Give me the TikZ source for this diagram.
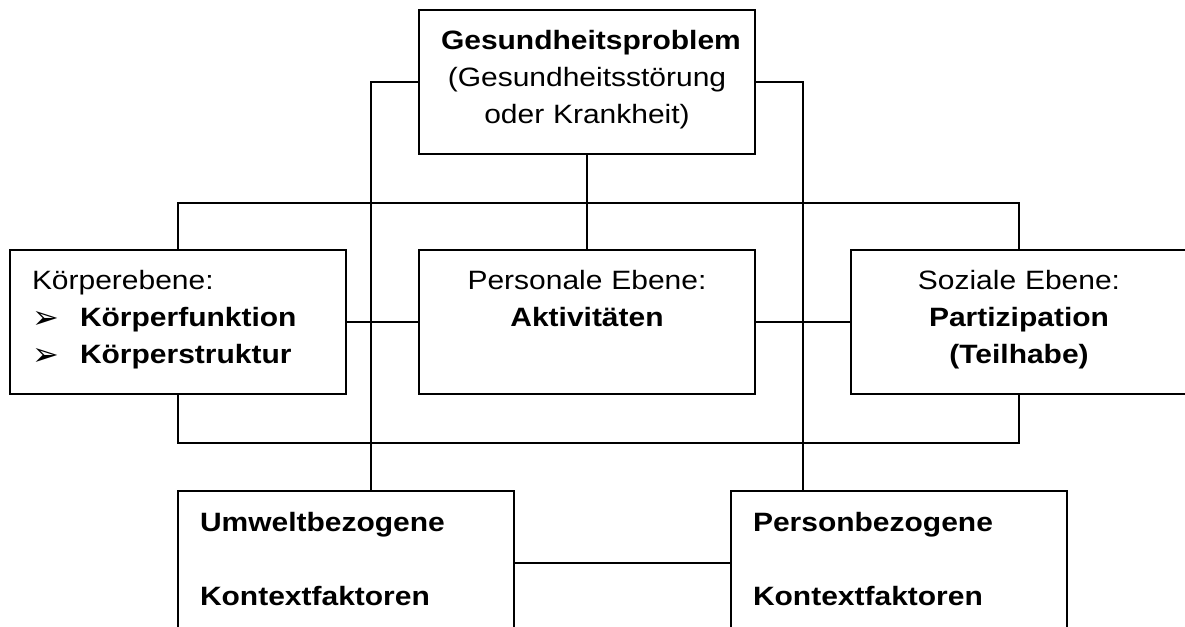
\documentclass[tikz,border=0pt]{standalone}
\usepackage{fontspec}
\setmainfont{Liberation Sans}[FakeStretch=1.13]
\newfontfamily\arrowfont{DejaVu Sans}
\newcommand{\pfeil}{\makebox[36pt][l]{\raisebox{-1pt}{\arrowfont\fontsize{24}{24}\selectfont ➢}}}

\begin{document}
\begin{tikzpicture}[x=0.75pt,y=-0.75pt,line width=1.2pt,
  box/.style={draw,inner xsep=16.5pt,inner ysep=0pt,
    text width=219pt,text height=30pt,text depth=78pt,
    font=\fontsize{19.9}{27.75}\selectfont}]
  \useasboundingbox (0,0) rectangle (1185,627);
  \clip (0,0) rectangle (1185,627);

  \node[box,align=center] (B1) at (587,82) {\textbf{Gesundheitsproblem}\\(Gesundheitsstörung\\oder Krankheit)};
  \node[box,align=left] (B2) at (178,322) {Körperebene:\\\pfeil\textbf{Körperfunktion}\\\pfeil\textbf{Körperstruktur}};
  \node[box,align=center] (B3) at (587,322) {Personale Ebene:\\\textbf{Aktivitäten}};
  \node[box,align=center] (B4) at (1019,322) {Soziale Ebene:\\\textbf{Partizipation}\\\textbf{(Teilhabe)}};
  \node[box,align=left] (B5) at (346,563) {\textbf{Umweltbezogene}\\[27.75pt]\textbf{Kontextfaktoren}};
  \node[box,align=left] (B6) at (899,563) {\textbf{Personbezogene}\\[27.75pt]\textbf{Kontextfaktoren}};

  \coordinate (top) at (587,203);
  \coordinate (bot) at (587,443);
  \coordinate (L) at (371,0);
  \coordinate (R) at (803,0);

  \draw (B1) -- (B3);
  \draw (B2.north) |- (top) -| (B4.north);
  \draw (B2.south) |- (bot) -| (B4.south);
  \draw (B2) -- (B3);
  \draw (B3) -- (B4);
  \draw (B5) -- (B6);
  \draw (B1.west) -| (B5.north -| L);
  \draw (B1.east) -| (B6.north -| R);
\end{tikzpicture}
\end{document}
